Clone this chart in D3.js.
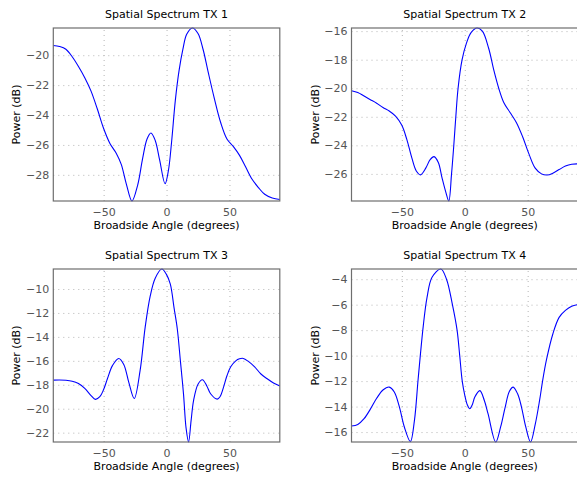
<!DOCTYPE html>
<html>
<head>
<meta charset="utf-8">
<style>
body { margin: 0; background: #fff; }
svg { font-family: "DejaVu Sans", sans-serif; }
.grid line { stroke: #b5b5b5; stroke-width: 1; stroke-dasharray: 1,4; }
.grid .domain { display: none; }
.ticks .domain { display: none; }
.ticks text { fill: #555; font-size: 11px; }
.spine { fill: none; stroke: #6e6e6e; stroke-width: 1.2; }
.curve { fill: none; stroke: #0000ff; stroke-width: 1.1; }
.title, .label { font-size: 11px; fill: #000; }
</style>
</head>
<body>
<svg width="577" height="477"></svg>
<script src="https://d3js.org/d3.v7.min.js"></script>
<script>
// values (angle in degrees, power in dB)
var angles1 = [-90, -85, -80, -75, -70, -65, -60, -55, -50, -45, -40, -36, -32, -27.5, -23, -19, -15.5, -12.4, -9, -5.5, -1.2, 1.5, 4, 7, 10, 13, 16, 20.5, 25, 29, 33, 38, 43, 48, 53, 58, 63, 68, 73, 78, 84, 90];
var power1 = [-19.35, -19.42, -19.6, -20.1, -20.75, -21.5, -22.4, -23.6, -24.9, -25.9, -26.55, -27.3, -28.6, -29.75, -28.7, -26.9, -25.6, -25.2, -25.7, -27.0, -28.6, -27.7, -25.8, -23.0, -21.0, -19.6, -18.6, -18.18, -18.55, -19.6, -21.1, -22.9, -24.5, -25.6, -26.1, -26.7, -27.5, -28.3, -28.85, -29.3, -29.55, -29.65];

var angles2 = [-90, -85, -80, -75, -70, -65, -60, -55, -50, -46, -42, -38.5, -35.2, -31, -27.5, -24.4, -21, -18, -15, -12.7, -10.5, -8.7, -7.1, -5.3, -2.1, 1.3, 5, 9.8, 14, 19, 23, 27, 31, 36, 41, 46, 51, 56, 61, 65.5, 70, 75, 80, 85, 90];
var power2 = [-20.17, -20.3, -20.55, -20.8, -21.05, -21.35, -21.6, -21.95, -22.6, -23.6, -24.9, -25.8, -26.07, -25.6, -25.0, -24.79, -25.2, -26.3, -27.3, -27.9, -26.0, -24.0, -22.0, -20.0, -18.0, -16.86, -16.1, -15.78, -16.0, -17.2, -18.7, -20.0, -21.0, -21.7, -22.4, -23.4, -24.6, -25.6, -26.0, -26.08, -25.95, -25.7, -25.45, -25.32, -25.3];

var angles3 = [-90, -85, -80, -75, -70, -65, -60, -56.5, -53, -50, -47, -43, -38, -34, -30, -25.7, -21, -17, -13, -9, -3.8, 0, 3, 6, 8.5, 11, 13.5, 15.5, 17.5, 19.5, 21.5, 25, 28.5, 32, 35, 40.3, 42.5, 45, 48, 51, 55, 58, 61, 65, 70, 75, 80, 85, 90];
var power3 = [-17.61, -17.6, -17.62, -17.7, -17.9, -18.3, -18.9, -19.22, -19.0, -18.4, -17.5, -16.4, -15.8, -16.3, -17.8, -19.15, -16.8, -13.2, -10.6, -9.1, -8.33, -8.8, -9.6, -11.6, -13.3, -16.0, -18.8, -21.6, -22.78, -21.0, -19.3, -17.95, -17.58, -18.1, -18.75, -19.2, -19.0, -18.3, -17.25, -16.5, -16.0, -15.83, -15.8, -16.05, -16.5, -17.1, -17.5, -17.85, -18.1];

var angles4 = [-90, -85, -80, -75, -70, -65, -60, -56, -52, -48, -43.2, -40, -37, -33, -30, -26, -19, -14.5, -9.8, -6.1, -4, -2, 0, 2, 4, 6, 8, 12, 15.5, 18.5, 24.6, 28.5, 32, 35.5, 38.5, 42, 45, 48.5, 52.3, 56, 59.5, 62, 65, 70, 75, 80, 85, 90];
var power4 = [-15.53, -15.4, -14.95, -14.2, -13.35, -12.7, -12.47, -12.85, -14.0, -15.6, -16.75, -15.1, -11.8, -7.7, -5.45, -3.85, -3.2, -4.0, -6.0, -8.0, -10.0, -12.0, -13.1, -13.85, -14.17, -13.85, -13.25, -12.75, -13.5, -14.56, -16.78, -15.6, -14.1, -12.8, -12.47, -13.0, -14.0, -15.6, -16.78, -15.4, -13.5, -11.9, -10.3, -8.3, -7.0, -6.45, -6.12, -5.99];

var titles = ["Spatial Spectrum TX 1", "Spatial Spectrum TX 2", "Spatial Spectrum TX 3", "Spatial Spectrum TX 4"];
var xLabel = "Broadside Angle (degrees)";
var yLabel = "Power (dB)";
var xDomain = [-90, 90];
var xTicks = [-50, 0, 50];
var yTicks1 = [-28, -26, -24, -22, -20];
var yTicks2 = [-26, -24, -22, -20, -18, -16];
var yTicks3 = [-22, -20, -18, -16, -14, -12, -10];
var yTicks4 = [-16, -14, -12, -10, -8, -6, -4];

var svg = d3.select("svg");

// subplot grid
var colX = [53.3, 351.5],
    rowY = [28, 269],
    pw = 226.5,
    ph = 173;

var panels = [
  {a: angles1, p: power1, yt: yTicks1},
  {a: angles2, p: power2, yt: yTicks2},
  {a: angles3, p: power3, yt: yTicks3},
  {a: angles4, p: power4, yt: yTicks4}
];

panels.forEach(function(d, i) {
  var left = colX[i % 2], top = rowY[Math.floor(i / 2)];
  var g = svg.append("g").attr("transform", "translate(" + left + "," + top + ")");

  var x = d3.scaleLinear().domain(xDomain).range([0, pw]);
  // axis limits are the data extent (tight)
  var y = d3.scaleLinear().domain(d3.extent(d.p)).range([ph, 0]);

  g.append("clipPath").attr("id", "clip" + i)
    .append("rect").attr("x", -1).attr("y", -1).attr("width", pw + 2).attr("height", ph + 2);

  // dotted grid
  g.append("g").attr("class", "grid")
    .attr("transform", "translate(0," + ph + ")")
    .call(d3.axisBottom(x).tickValues(xTicks).tickSize(-ph).tickFormat(""));
  g.append("g").attr("class", "grid")
    .call(d3.axisLeft(y).tickValues(d.yt).tickSize(-pw).tickFormat(""));

  var pts = d.a.map(function(v, k) { return [v, d.p[k]]; });
  var line = d3.line()
    .x(function(q) { return x(q[0]); })
    .y(function(q) { return y(q[1]); })
    .curve(d3.curveCatmullRom.alpha(0.5));

  g.append("path").attr("class", "curve")
    .attr("clip-path", "url(#clip" + i + ")")
    .attr("d", line(pts));

  g.append("rect").attr("class", "spine")
    .attr("width", pw).attr("height", ph);

  // tick labels
  g.append("g").attr("class", "ticks")
    .attr("transform", "translate(0," + ph + ")")
    .call(d3.axisBottom(x).tickValues(xTicks).tickSize(0).tickPadding(7).tickFormat(d3.format("d")));
  g.append("g").attr("class", "ticks")
    .call(d3.axisLeft(y).tickValues(d.yt).tickSize(0).tickPadding(4).tickFormat(d3.format("d")));
  g.selectAll(".ticks").attr("font-family", null).attr("font-size", null);

  g.append("text").attr("class", "title")
    .attr("x", pw / 2).attr("y", -10)
    .attr("text-anchor", "middle")
    .text(titles[i]);

  g.append("text").attr("class", "label")
    .attr("x", pw / 2).attr("y", ph + 28)
    .attr("text-anchor", "middle")
    .text(xLabel);

  g.append("text").attr("class", "label")
    .attr("transform", "translate(-33," + (ph / 2) + ") rotate(-90)")
    .attr("text-anchor", "middle")
    .text(yLabel);
});
</script>
</body>
</html>
